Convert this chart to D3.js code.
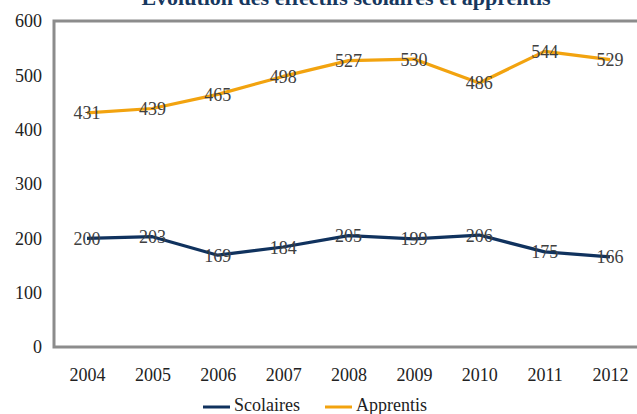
<!DOCTYPE html>
<html><head><meta charset="utf-8">
<script src="https://cdn.jsdelivr.net/npm/d3@7"></script>
<style>body{margin:0;background:#fff}svg{display:block}</style>
</head><body><svg id="c" width="637" height="414" font-family="Liberation Serif, DejaVu Serif, serif"></svg>
<script>
const years = ["2004","2005","2006","2007","2008","2009","2010","2011","2012"];
const scolaires = [200,203,169,184,205,199,206,175,166];
const apprentis = [431,439,465,498,527,530,486,544,529];
const yTicks = [0,100,200,300,400,500,600];
const seriesNames = ["Scolaires","Apprentis"];
const colors = ["#10325E","#F2A30F"];
const FF = "Liberation Serif, DejaVu Serif, serif";

const svg = d3.select("#c");
const x = d3.scalePoint().domain(years).range([87,610]);
const y = d3.scaleLinear().domain([0,600]).range([347,21]);

svg.append("rect").attr("x",54).attr("y",21).attr("width",640).attr("height",326)
  .attr("fill","none").attr("stroke","#8c8c8c").attr("stroke-width",3);

svg.append("text").attr("x",346).attr("y",5).attr("text-anchor","middle").attr("font-family",FF)
  .attr("font-size",22).attr("font-weight","bold").attr("fill","#17375E")
  .text("Évolution des effectifs scolaires et apprentis");

const ya = svg.append("g").attr("transform","translate(42,0)")
  .call(d3.axisLeft(y).tickValues(yTicks).tickSize(0).tickPadding(0));
ya.attr("font-family",FF).select(".domain").remove();
ya.selectAll("text").attr("font-size",18).attr("fill","#222").attr("font-family",FF);

const xa = svg.append("g").attr("transform","translate(0,368)")
  .call(d3.axisBottom(x).tickSize(0).tickPadding(0));
xa.attr("font-family",FF).select(".domain").remove();
xa.selectAll("text").attr("font-size",18).attr("fill","#222").attr("font-family",FF).attr("dy","0.71em");

const data = [scolaires, apprentis];
const line = d3.line().x((d,i)=>x(years[i])).y(d=>y(d));
data.forEach((vals,k)=>{
  svg.append("path").datum(vals).attr("d",line).attr("fill","none")
    .attr("stroke",colors[k]).attr("stroke-width",3.2).attr("stroke-linejoin","round");
});
data.forEach((vals,k)=>{
  svg.append("g").selectAll("text").data(vals).join("text")
    .attr("x",(d,i)=>x(years[i])).attr("y",d=>y(d)).attr("dy","0.36em")
    .attr("text-anchor","middle").attr("font-size",18).attr("fill","#404040").attr("font-family",FF)
    .text(d=>d);
});

const leg = [{x:203},{x:325}];
seriesNames.forEach((n,k)=>{
  svg.append("line").attr("x1",leg[k].x).attr("x2",leg[k].x+27).attr("y1",407).attr("y2",407)
    .attr("stroke",colors[k]).attr("stroke-width",3);
  svg.append("text").attr("x",leg[k].x+31).attr("y",411).attr("font-size",18).attr("fill","#222")
    .attr("font-family",FF).text(n);
});
</script></body></html>
